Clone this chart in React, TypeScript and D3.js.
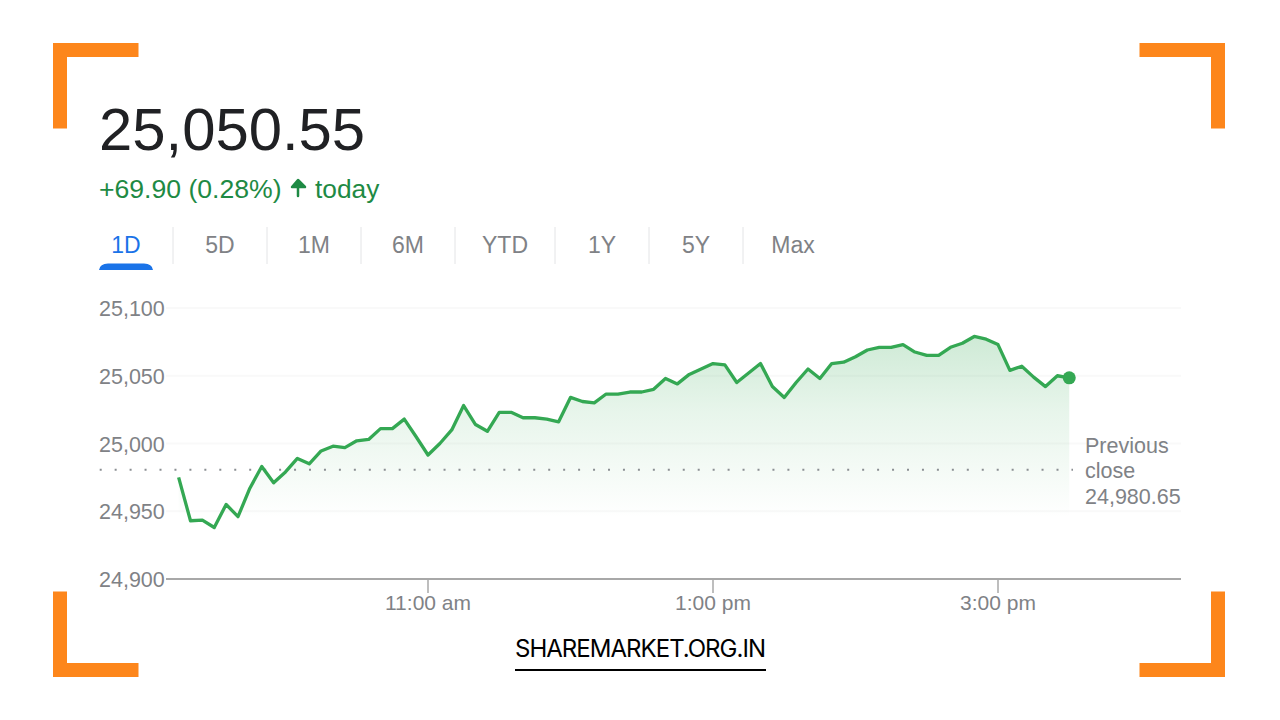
import React from 'react';
import * as d3 from 'd3';

const prices = [
  24975, 24943, 24943.5, 24938, 24955, 24946, 24967, 24983, 24971, 24979,
  24989, 24985, 24994.5, 24998, 24997, 25002, 25003, 25011, 25011, 25018,
  25005, 24991.5, 25000, 25010, 25028, 25014, 25009, 25023, 25023, 25019,
  25019, 25018, 25016, 25034, 25031, 25030, 25036.5, 25036.5, 25038, 25038,
  25040, 25048, 25044, 25051, 25055, 25059, 25058, 25045, 25052, 25059,
  25042, 25034, 25045, 25055, 25048, 25059, 25060, 25064, 25069, 25071,
  25071, 25073, 25067.5, 25065, 25065, 25071, 25074, 25079, 25077, 25073,
  25054, 25057, 25049, 25042, 25050, 25048.5,
];
const previousClose = 24980.65;
const openMinute = 9 * 60 + 15;
const stepMinutes = 5;

const yTicks = [25100, 25050, 25000, 24950, 24900];
const xTicks = [
  { minute: 11 * 60, label: '11:00 am' },
  { minute: 13 * 60, label: '1:00 pm' },
  { minute: 15 * 60, label: '3:00 pm' },
];
const ranges = ['1D', '5D', '1M', '6M', 'YTD', '1Y', '5Y', 'Max'];
const rangeCenters = [126, 220, 314, 408, 505, 602, 696, 793];
const rangeSeparators = [173, 267, 361, 455, 555, 649, 743];

const W = 1280;
const H = 720;
const FONT = '"Liberation Sans", Arial, sans-serif';
const GREEN = '#34a853';
const TEXT_GREEN = '#1e8a44';
const GRAY = '#7f8286';
const ORANGE = '#fd861b';

// chart area
const left = 166;
const right = 1181;
const top = 308;
const bottom = 579;

const x = d3.scaleLinear().domain([11 * 60, 15 * 60]).range([428, 998]);
const y = d3.scaleLinear().domain([24900, 25100]).range([bottom, top]);
const fmt = d3.format(',');

const points = prices.map((p, i) => ({ t: openMinute + i * stepMinutes, p }));
const linePath = d3.line<{ t: number; p: number }>().x(d => x(d.t)).y(d => y(d.p))(points) ?? '';
const areaPath = d3.area<{ t: number; p: number }>().x(d => x(d.t)).y0(bottom).y1(d => y(d.p))(points) ?? '';
const last = points[points.length - 1];

// corner brackets, drawn as thick polylines
const arm = 78.5;
const bracket = (cx: number, cy: number, dx: number, dy: number) =>
  d3.line()([[cx, cy + dy * arm], [cx, cy], [cx + dx * arm, cy]]) ?? '';

const App: React.FC = () => (
  <svg
    width={W}
    height={H}
    viewBox={`0 0 ${W} ${H}`}
    style={{ position: 'fixed', left: 0, top: 0, background: '#fff', fontFamily: FONT }}
  >
    <defs>
      <linearGradient id="areaFill" gradientUnits="userSpaceOnUse" x1="0" x2="0" y1={y(25079)} y2={518}>
        <stop offset="0%" stopColor={GREEN} stopOpacity={0.24} />
        <stop offset="40%" stopColor={GREEN} stopOpacity={0.12} />
        <stop offset="100%" stopColor={GREEN} stopOpacity={0} />
      </linearGradient>
    </defs>

    <g fill="none" stroke={ORANGE} strokeWidth={14}>
      <path d={bracket(60, 50, 1, 1)} />
      <path d={bracket(1218, 50, -1, 1)} />
      <path d={bracket(60, 670, 1, -1)} />
      <path d={bracket(1218, 670, -1, -1)} />
    </g>

    <text x={99} y={150} fontSize={59.8} fill="#202124">25,050.55</text>
    <text x={99} y={198} fontSize={26.6} fill={TEXT_GREEN}>+69.90 (0.28%)</text>
    <path d="M298 196 V187 H292 L298 180 L305 187 H298 Z" fill={TEXT_GREEN} stroke={TEXT_GREEN} strokeWidth={2.5} strokeLinejoin="round" />
    <text x={315} y={198} fontSize={26.3} fill={TEXT_GREEN}>today</text>

    {ranges.map((r, i) => (
      <text
        key={r}
        x={rangeCenters[i]}
        y={253}
        fontSize={23}
        textAnchor="middle"
        fill={i === 0 ? '#1a73e8' : GRAY}
      >
        {r}
      </text>
    ))}
    {rangeSeparators.map(s => (
      <line key={s} x1={s} x2={s} y1={227} y2={264} stroke="#e3e4e6" strokeWidth={1} />
    ))}
    <path d="M99 270 Q100 263.5 108 263.5 H144 Q152 263.5 153 270 Z" fill="#1a73e8" />

    {yTicks.slice(0, -1).map(t => (
      <line key={t} x1={left} x2={right} y1={y(t)} y2={y(t)} stroke="#f9f9f9" strokeWidth={2} />
    ))}
    {yTicks.map(t => (
      <text key={t} x={99} y={y(t) + 8} fontSize={21.5} fill={GRAY}>{fmt(t)}</text>
    ))}

    <path d={areaPath} fill="url(#areaFill)" />
    <line
      x1={99.7}
      x2={1073}
      y1={y(previousClose)}
      y2={y(previousClose)}
      stroke="#8a8e92"
      strokeWidth={2}
      strokeDasharray="2 12.95"
    />
    <path d={linePath} fill="none" stroke={GREEN} strokeWidth={3.3} strokeLinejoin="round" />
    <circle cx={x(last.t)} cy={y(last.p)} r={6.5} fill={GREEN} />

    <line x1={left} x2={right} y1={bottom} y2={bottom} stroke="#a8a8a8" strokeWidth={2} />
    {xTicks.map(t => (
      <g key={t.label}>
        <line x1={x(t.minute)} x2={x(t.minute)} y1={bottom} y2={593} stroke="#a8a8a8" strokeWidth={1.5} />
        <text x={x(t.minute)} y={610} fontSize={21} textAnchor="middle" fill={GRAY}>{t.label}</text>
      </g>
    ))}

    <g fontSize={21.5} fill={GRAY}>
      <text x={1085} y={453}>Previous</text>
      <text x={1085} y={478}>close</text>
      <text x={1085} y={504}>24,980.65</text>
    </g>

    <text x={515} y={657} fontSize={24} fill="#000" fontFamily='Inter, sans-serif' textLength={251}>SHAREMARKET.ORG.IN</text>
    <line x1={515} x2={766} y1={670} y2={670} stroke="#000" strokeWidth={2} />
  </svg>
);

export default App;
